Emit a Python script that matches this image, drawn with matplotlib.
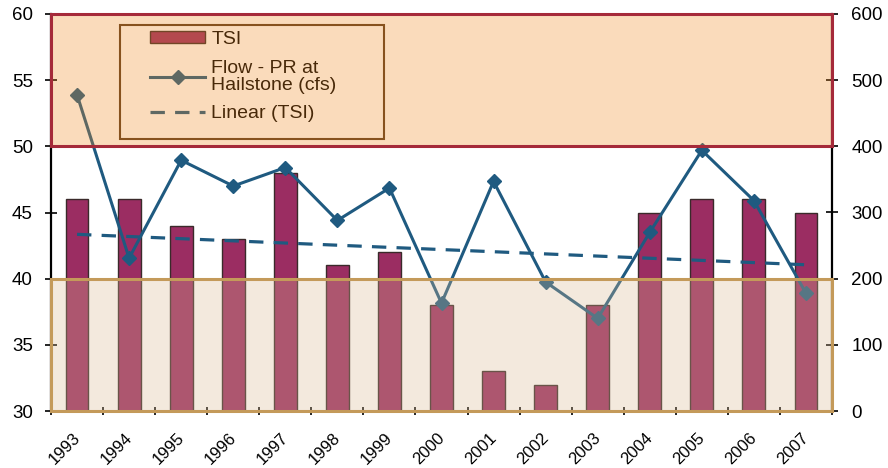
import numpy as np
import matplotlib
matplotlib.use("Agg")
import matplotlib.pyplot as plt
from matplotlib.patches import Rectangle, Patch
import matplotlib.transforms as mtransforms

plt.rcParams['font.family'] = ['Liberation Sans', 'DejaVu Sans']

years = ['1993', '1994', '1995', '1996', '1997', '1998', '1999', '2000',
         '2001', '2002', '2003', '2004', '2005', '2006', '2007']
tsi = [46, 46, 44, 43, 48, 41, 42, 38, 33, 32, 38, 45, 46, 46, 45]
flow = [478, 231, 379, 340, 368, 288, 337, 163, 347, 195, 140, 270, 394, 318, 178]
left_ticks = [30, 35, 40, 45, 50, 55, 60]
right_ticks = [0, 100, 200, 300, 400, 500, 600]

x = np.arange(len(years))
coef = np.polyfit(x, tsi, 1)
trend = np.polyval(coef, x)

fig = plt.figure(figsize=(8.88, 4.68), dpi=100)
ax = fig.add_axes([51/888, 1-411/468, 781/888, 397/468])
ax2 = ax.twinx()

bar_col = '#9b2d62'
line_col = '#1f5a80'

ax.bar(x, tsi, width=0.44, color=bar_col, edgecolor='#3a2a2a', linewidth=1.0,
       label='TSI', zorder=2)
ax.set_ylim(30, 60)
ax.set_xlim(-0.5, len(years) - 0.5)
ax.set_yticks(left_ticks)

# trend of TSI mapped onto the right axis scale (30-60 <-> 0-600) for layering
trend_right = [(t - 30) * 20 for t in trend]
ln1, = ax2.plot(x, flow, color=line_col, lw=2.2, marker='D', markersize=7.5,
                label='Flow - PR at\nHailstone (cfs)', zorder=4)
ln2, = ax2.plot(x, trend_right, color=line_col, lw=2.3, ls=(0, (4.5, 3.2)),
                label='Linear (TSI)', zorder=3)
ax2.set_ylim(0, 600)
ax2.set_yticks(right_ticks)

for a in (ax, ax2):
    for s in a.spines.values():
        s.set_visible(False)
ax2.spines['left'].set_visible(True)
ax2.spines['right'].set_visible(True)
ax2.spines['left'].set_linewidth(1.6)
ax2.spines['right'].set_linewidth(1.6)

ax.tick_params(axis='y', direction='inout', length=8, width=1.2, labelsize=13.5, pad=9)
ax2.tick_params(axis='y', direction='inout', length=8, width=1.2, labelsize=13.5, pad=10)

ax.set_xticks(np.arange(-0.5, len(years), 1.0))
ax.set_xticklabels([])
ax.set_xticks(x, minor=True)
ax.set_xticklabels(years, minor=True, rotation=45, ha='right', va='top', fontsize=12)
ax.tick_params(axis='x', which='major', direction='inout', length=6, width=1.2)
ax.tick_params(axis='x', which='minor', length=0, pad=14)
offset = mtransforms.ScaledTranslation(6/100, 0, fig.dpi_scale_trans)
for lab in ax.get_xticklabels(minor=True):
    lab.set_transform(lab.get_transform() + offset)

# bands on ax2 coordinates (400-600 == 50-60, 0-200 == 30-40)
top = Rectangle((-0.5, 400), len(years), 200, facecolor=(241/255, 138/255, 32/255, 0.3),
                edgecolor='#a52a3a', linewidth=2.2, zorder=10, clip_on=False)
bot = Rectangle((-0.5, 0), len(years), 200, facecolor=(217/255, 184/255, 144/255, 0.3),
                edgecolor='#c49a5a', linewidth=2.2, zorder=10, clip_on=False)
ax2.add_patch(top)
ax2.add_patch(bot)

# legend frame
frame = Rectangle((0.0883, 0.685), 0.4264 - 0.0883, 0.9723 - 0.685, transform=ax2.transAxes,
                  facecolor='none', edgecolor='#5a3a1e', linewidth=1.5, zorder=5)
ax2.add_patch(frame)

h0 = Patch(facecolor=bar_col, edgecolor='#3a2a2a', label='TSI')
leg = ax2.legend([h0, ln1, ln2], ['TSI', 'Flow - PR at\nHailstone (cfs)', 'Linear (TSI)'],
                 loc='upper left', bbox_to_anchor=(0.1268, 0.957),
                 fontsize=14, frameon=False, handlelength=2.85, handleheight=0.55,
                 handletextpad=0.3, borderpad=0.0, labelspacing=0.6,
                 borderaxespad=0)
leg.set_zorder(5)
for t in leg.get_texts():
    t.set_linespacing(1.0)

fig.savefig('out.png', dpi=100)
